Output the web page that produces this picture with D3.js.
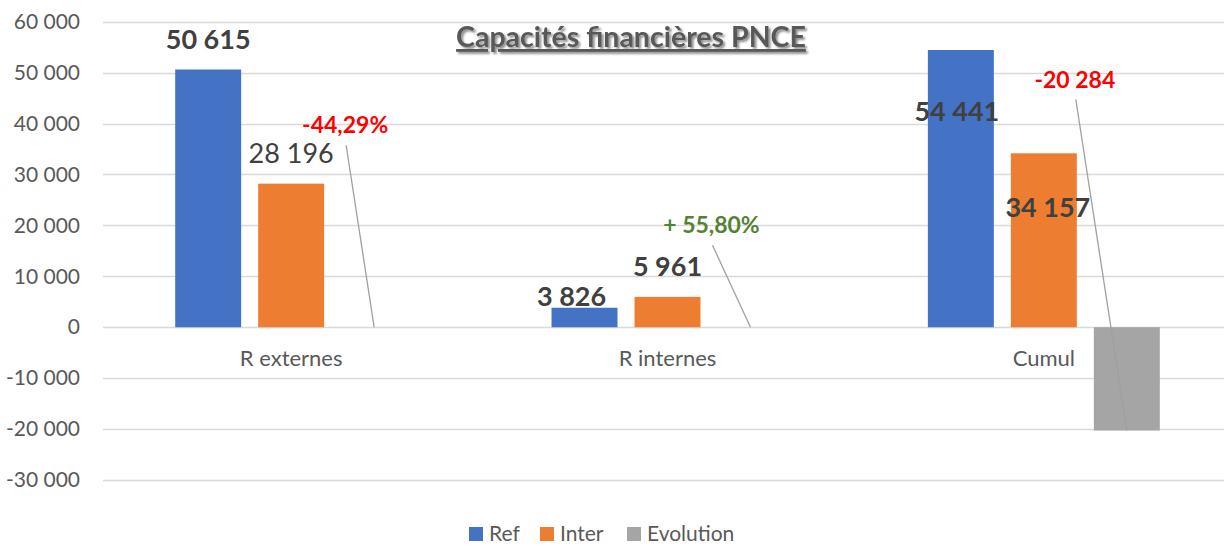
<!DOCTYPE html>
<html>
<head>
<meta charset="utf-8">
<script src="https://cdn.jsdelivr.net/npm/d3@7"></script>
<style>
  body { margin: 0; background: #fff; }
  svg { display: block; font-family: Lato, "Open Sans", sans-serif; }
</style>
</head>
<body>
<svg width="1224" height="546"></svg>
<script>
const categories = ['R externes', 'R internes', 'Cumul'];
const series = ['Ref', 'Inter', 'Evolution'];
const refValues = [50615, 3826, 54441];
const interValues = [28196, 5961, 34157];
const evolutionValues = [-0.4429, 0.558, -20284];
const evolutionLabels = ['-44,29%', '+ 55,80%', '-20 284'];
const yTicks = [-30000, -20000, -10000, 0, 10000, 20000, 30000, 40000, 50000, 60000];
const colors = ['#4472C4', '#ED7D31', '#A5A5A5'];

// hand placed label offsets (dx, dy from the end of each bar), like in the workbook
const refLabelPos = [[0, -20], [-13, -2], [-4, 71]];
const interLabelPos = [[0, -21, 'normal'], [0, -21, 'bold'], [4, 64, 'bold']];
const evoLabelPos = [[-29, -194], [-39, -94], [-52, -343]];

const fmt = d3.formatLocale({decimal: ',', thousands: ' ', grouping: [3], currency: ['', ''], minus: '-'}).format(',');

var svg = d3.select('svg');
var plotLeft = 103, plotRight = 1232, plotTop = 21.7, plotBottom = 480;

var x0 = d3.scaleBand().domain(categories).range([plotLeft, plotRight]);
var x1 = d3.scaleBand().domain(series).range([0, x0.bandwidth()])
  .paddingInner(0.205).paddingOuter(0.87);
var y = d3.scaleLinear().domain([-30000, 60000]).range([plotBottom, plotTop]);

var defs = svg.append('defs');
var f = defs.append('filter').attr('id', 'shadow').attr('x', '-10%').attr('y', '-30%')
  .attr('width', '120%').attr('height', '160%');
f.append('feDropShadow').attr('dx', 2).attr('dy', 2).attr('stdDeviation', 1.2)
  .attr('flood-color', '#000').attr('flood-opacity', 0.45);

// gridlines
svg.append('g').selectAll('line').data(yTicks).enter().append('line')
  .attr('x1', plotLeft).attr('x2', 1224)
  .attr('y1', d => Math.round(y(d)) + 0.5).attr('y2', d => Math.round(y(d)) + 0.5)
  .attr('stroke', '#D9D9D9').attr('stroke-width', 1.5);

// y axis labels
var yAxis = svg.append('g').attr('transform', 'translate(' + (plotLeft - 8) + ',0)')
  .call(d3.axisLeft(y).tickValues(yTicks).tickFormat(fmt).tickSize(0).tickPadding(15));
yAxis.select('.domain').remove();
yAxis.selectAll('text').attr('font-family', 'Lato').attr('font-size', 21).attr('fill', '#595959');

// category labels
svg.append('g').selectAll('text').data(categories).enter().append('text')
  .attr('x', d => x0(d) + x0.bandwidth() / 2).attr('y', 366)
  .attr('text-anchor', 'middle').attr('font-size', 22).attr('fill', '#595959')
  .text(d => d);

var rows = categories.map((c, i) => ({cat: c, i: i, vals: [refValues[i], interValues[i], evolutionValues[i]]}));

// bars
var groups = svg.append('g').selectAll('g').data(rows).enter().append('g')
  .attr('transform', d => 'translate(' + x0(d.cat) + ',0)');
groups.selectAll('rect').data(d => d.vals.map((v, k) => ({s: series[k], v: v, k: k}))).enter()
  .append('rect')
  .attr('x', d => x1(d.s)).attr('width', x1.bandwidth())
  .attr('y', d => y(Math.max(0, d.v))).attr('height', d => Math.abs(y(d.v) - y(0)))
  .attr('fill', d => colors[d.k]);

function barEnd(i, k, v) {
  return [x0(categories[i]) + x1(series[k]) + x1.bandwidth() / 2, y(v)];
}

// ref labels
svg.append('g').selectAll('text').data(refValues).enter().append('text')
  .attr('x', (d, i) => barEnd(i, 0, d)[0] + refLabelPos[i][0])
  .attr('y', (d, i) => barEnd(i, 0, d)[1] + refLabelPos[i][1])
  .attr('text-anchor', 'middle').attr('font-size', 27).attr('font-weight', 'bold')
  .attr('fill', '#404040').text(d => fmt(d));

// inter labels
svg.append('g').selectAll('text').data(interValues).enter().append('text')
  .attr('x', (d, i) => barEnd(i, 1, d)[0] + interLabelPos[i][0])
  .attr('y', (d, i) => barEnd(i, 1, d)[1] + interLabelPos[i][1])
  .attr('text-anchor', 'middle').attr('font-size', 27)
  .attr('font-weight', (d, i) => interLabelPos[i][2])
  .attr('fill', '#404040').text(d => fmt(d));

// evolution labels with leader lines
var evo = svg.append('g');
evolutionValues.forEach(function(v, i) {
  var e = barEnd(i, 2, Math.abs(v) < 1 ? 0 : v);
  var lx = e[0] + evoLabelPos[i][0], ly = e[1] + evoLabelPos[i][1];
  evo.append('line')
    .attr('x1', lx + 1).attr('y1', ly + 12).attr('x2', e[0]).attr('y2', e[1])
    .attr('stroke', '#A0A0A0').attr('stroke-width', 1.3);
  evo.append('text').attr('x', lx).attr('y', ly)
    .attr('text-anchor', 'middle').attr('font-size', 23).attr('font-weight', 'bold')
    .attr('fill', v < 0 ? '#FF0000' : '#548235').text(evolutionLabels[i]);
});

// title
svg.append('text').attr('x', 631).attr('y', 47).attr('text-anchor', 'middle')
  .attr('font-size', 28.5).attr('font-weight', 'bold').attr('fill', '#595959')
  .style('text-decoration', 'underline').attr('filter', 'url(#shadow)')
  .text('Capacités financières PNCE');

// legend
var legendX = [469, 540, 627];
var lg = svg.append('g').selectAll('g').data(series).enter().append('g')
  .attr('transform', (d, i) => 'translate(' + legendX[i] + ',527)');
lg.append('rect').attr('width', 14).attr('height', 14).attr('fill', (d, i) => colors[i]);
lg.append('text').attr('x', 20).attr('y', 14).attr('font-size', 21).attr('fill', '#595959').text(d => d);
</script>
</body>
</html>
